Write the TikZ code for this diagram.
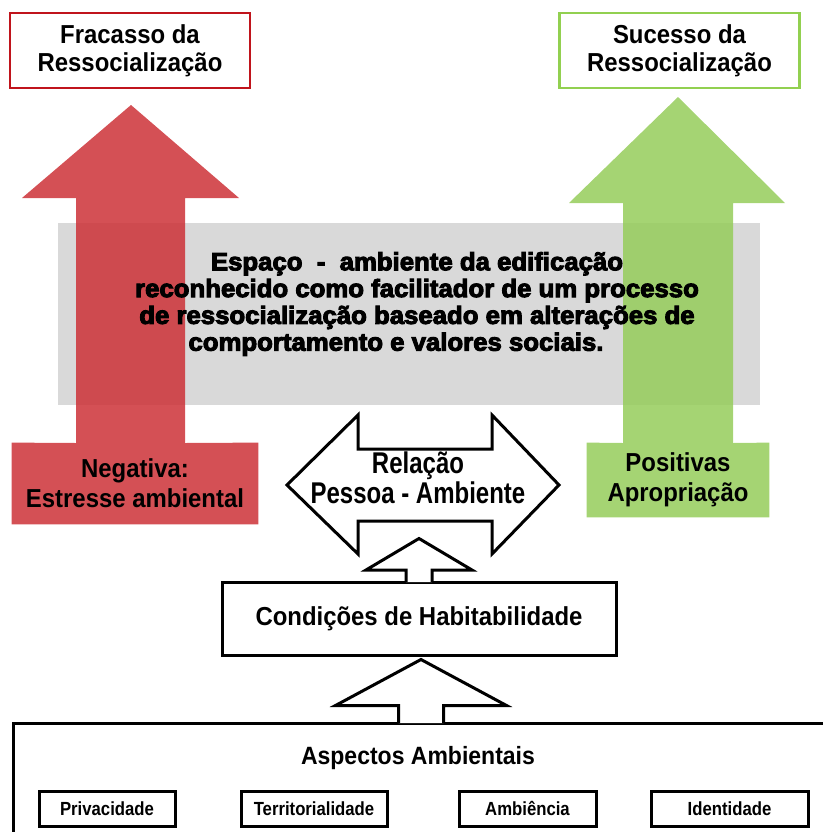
\documentclass[tikz,border=0pt]{standalone}
\usepackage{fontspec}
\setmainfont{Liberation Sans}
\newfontfamily\labelfont[FakeStretch=0.92]{Liberation Sans Bold}
\newfontfamily\heavyfont[FakeBold=4,FakeStretch=1.03]{Liberation Sans Bold}
\newfontfamily\narrowfont[FakeStretch=0.8]{Liberation Sans Bold}
\newfontfamily\tagfont[FakeStretch=0.88]{Liberation Sans Bold}
\usetikzlibrary{calc,backgrounds}

\definecolor{failline}{RGB}{192,20,28}
\definecolor{failfill}{RGB}{205,49,55}
\definecolor{okline}{RGB}{146,208,80}
\definecolor{okfill}{RGB}{149,205,91}
\definecolor{bandgray}{RGB}{217,217,217}

\begin{document}
\begin{tikzpicture}[x=0.5pt,y=-0.5pt,line join=miter]
    \tikzstyle{goal box}=[draw,line width=1.4pt,fill=white,minimum width=120pt,minimum height=37.5pt,inner sep=0pt,align=center,font=\labelfont\fontsize{13}{14}\selectfont]
    \tikzstyle{result box}=[inner sep=0pt,align=center,font=\labelfont\fontsize{13}{15}\selectfont]
    \tikzstyle{frame box}=[draw,line width=1.5pt,inner sep=0pt]
    \tikzstyle{tag box}=[frame box,minimum height=17.5pt,font=\tagfont\fontsize{9.5}{10}\selectfont]
    \tikzstyle{block outline}=[draw=black,line width=1.5pt,fill=white]
    \useasboundingbox (0,0) rectangle (823,832);
    \path
    % Goals
    (130,50.5)   node[goal box,draw=failline] (fracasso) {Fracasso da\\Ressocialização}
    (679.5,50.5) node[goal box,draw=okline]   (sucesso)  {Sucesso da\\Ressocialização}

    % Outcomes
    (135,483.5) node[result box,minimum width=123pt,minimum height=40.5pt] (negativa) {Negativa:\\Estresse ambiental}
    (678,480)   node[result box,minimum width=91pt,minimum height=37pt]    (positiva) {Positivas\\Apropriação}

    % Space text
    (417,304) node[inner sep=0pt,align=center,font=\heavyfont\fontsize{12.5}{13.4}\selectfont] (espaco)
        {Espaço\ \ -\ \ ambiente da edificação\\reconhecido como facilitador de um processo\\de ressocialização baseado em alterações de\\comportamento e valores sociais.\hspace*{21pt}}

    % Relation
    (423,485) coordinate (relc)
    (418,478) node[inner sep=0pt,align=center,font=\narrowfont\fontsize{15}{15}\selectfont] (relacao) {Relação\\Pessoa - Ambiente}

    % Conditions
    (419,618.5) node[frame box,minimum width=197pt,minimum height=36.5pt,font=\labelfont\fontsize{13}{14}\selectfont] (condicoes) {Condições de Habitabilidade}

    % Aspects
    (436.5,796.5) node[frame box,minimum width=423.5pt,minimum height=73.5pt] (aspectos) {}
    (418,758)     node[inner sep=0pt,font=\labelfont\fontsize{12.5}{14}\selectfont] (aspectostitle) {Aspectos Ambientais}
    (107,808.5)   node[tag box,minimum width=68pt]   (privacidade)      {Privacidade}
    (314,808.5)   node[tag box,minimum width=73pt]   (territorialidade) {Territorialidade}
    (527.5,808.5) node[tag box,minimum width=68.5pt] (ambiencia)        {Ambiência}
    (729.5,808.5) node[tag box,minimum width=78.5pt] (identidade)       {Identidade};

    \begin{scope}[on background layer]
    \node[fill=bandgray,minimum width=351pt,minimum height=91pt,inner sep=0pt] (band) at (409,314) {};
    % Up arrows to the goals
    \fill[failfill,fill opacity=0.85] (negativa.south west) -- (negativa.north west) -- (76,443) -- (76,198) -- (22,198)
        -- (131,105) -- (239,198) -- (185,198) -- (185,443) -- (negativa.north east) -- (negativa.south east) -- cycle;
    \fill[okfill,fill opacity=0.85] (positiva.south west) -- (positiva.north west) -- (623,443) -- (623,203) -- (569,203)
        -- (678,97) -- (785,203) -- (733,203) -- (733,443) -- (positiva.north east) -- (positiva.south east) -- cycle;
    % Double arrow
    \draw[block outline] (relc) ++(-136,0) -- ++(71,-70) -- ++(0,34) -- ++(134,0) -- ++(0,-34) -- ++(67,70)
        -- ++(-67,69) -- ++(0,-33) -- ++(-134,0) -- ++(0,33) -- cycle;
    \end{scope}

    % Link the different parts
    \draw[block outline] ($(condicoes.north)+(-13,1.5)$) -- ++(0,-12) -- ++(-40,0) -- ++(53,-31.5) -- ++(53,31.5) -- ++(-40,0) -- ++(0,12);
    \draw[block outline] ($(aspectos.north west)+(387,1.5)$) -- ++(0,-17.5) -- ++(-63,0) -- ++(85.5,-46) -- ++(85.5,46) -- ++(-63,0) -- ++(0,17.5);
\end{tikzpicture}
\end{document}
